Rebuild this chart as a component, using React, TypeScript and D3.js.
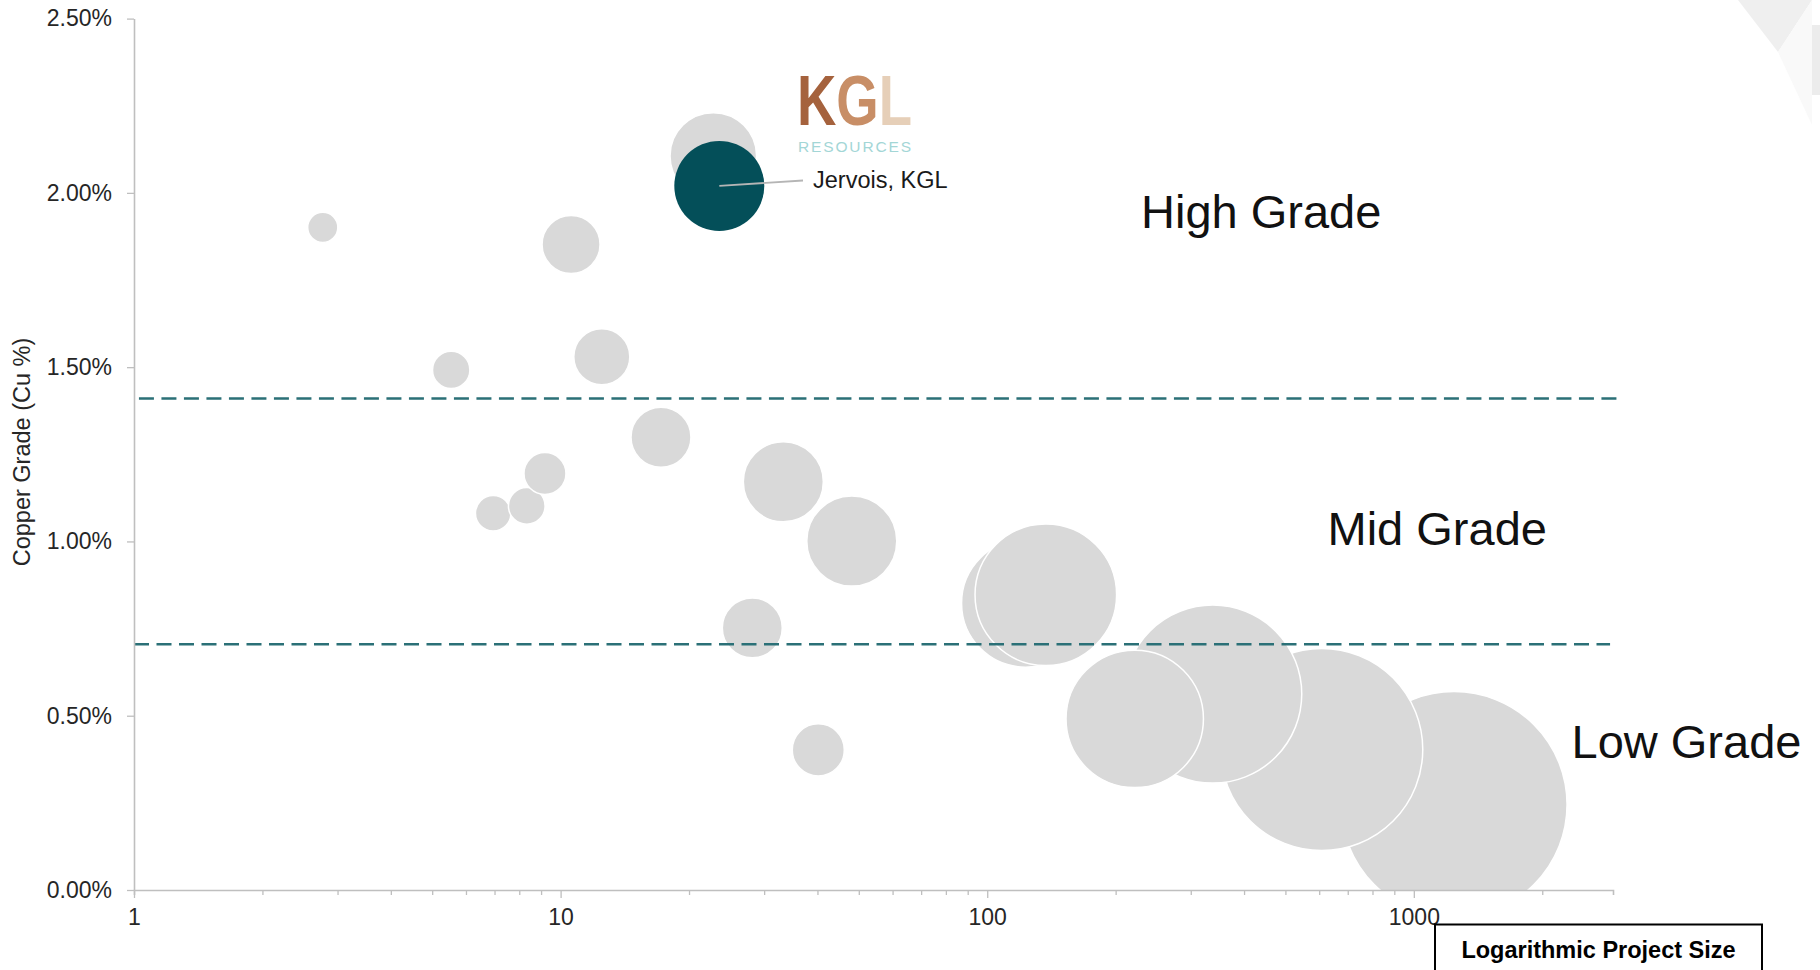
import React, { useEffect, useRef } from "react";
import * as d3 from "d3";

// Peer copper projects: ore size (log axis), copper grade (%) and contained copper (bubble size)
const peerSize = [2.77, 5.54, 6.95, 8.33, 9.19, 10.58, 12.49, 17.19, 22.8, 28.14, 33.27, 40.18, 48.14, 123, 137.2, 1242.5, 608.3, 337.8, 221.7];
const peerGrade = [1.901, 1.492, 1.081, 1.102, 1.195, 1.852, 1.53, 1.299, 2.106, 0.752, 1.171, 0.402, 1.001, 0.823, 0.847, 0.245, 0.403, 0.562, 0.491];
const peerContained = [0.054, 0.083, 0.075, 0.08, 0.105, 0.2, 0.187, 0.214, 0.446, 0.214, 0.381, 0.161, 0.482, 0.975, 1.193, 3.04, 2.43, 1.886, 1.124];

// Jervois (KGL)
const kglSize = [23.55];
const kglGrade = [2.02];
const kglContained = [0.482];
const kglLabel = "Jervois, KGL";

// grade band boundaries (dashed lines) and their extent on the size axis
const bandGrade = [1.41, 0.705];
const bandFrom = [1.027, 1];
const bandTo = [3060, 2884];
const bandLabels = ["High Grade", "Mid Grade", "Low Grade"];

const yTicks = [0, 0.5, 1, 1.5, 2, 2.5];
const xMajorTicks = [1, 10, 100, 1000];
const xMax = 2930;

const WIDTH = 1820;
const HEIGHT = 970;
const FONT = "'Liberation Sans', Arial, Helvetica, sans-serif";

export default function App() {
  const svgRef = useRef<SVGSVGElement>(null);

  useEffect(() => {
    if (!svgRef.current) return;
    const svg = d3.select(svgRef.current);
    svg.selectAll("*").remove();

    const plot = { left: 134, right: 1613, top: 18.6, bottom: 890 };
    const x = d3.scaleLog().domain([1, xMax]).range([plot.left, plot.right]);
    const y = d3.scaleLinear().domain([0, 2.5]).range([plot.bottom, plot.top]);
    const r = d3.scaleSqrt().domain([0, d3.max(peerContained)!]).range([0, 113]);

    // faint slide decoration, top right corner
    const deco = svg.append("g");
    deco.append("polygon").attr("points", "1738,0 1812,0 1778,52").attr("fill", "#efefef");
    deco.append("polygon").attr("points", "1778,52 1812,0 1812,125").attr("fill", "#f9f9f9");
    deco.append("rect").attr("x", 1812).attr("y", 25).attr("width", 8).attr("height", 70).attr("fill", "#ececec");

    svg.append("defs")
      .append("clipPath")
      .attr("id", "plot-clip")
      .append("rect")
      .attr("x", plot.left)
      .attr("y", plot.top)
      .attr("width", plot.right - plot.left)
      .attr("height", plot.bottom - plot.top);

    // Peer bubbles
    const peers = peerSize.map((s, i) => ({ s, g: peerGrade[i], c: peerContained[i] }));
    const bubbles = svg.append("g").attr("clip-path", "url(#plot-clip)");
    bubbles.selectAll("circle.peer")
      .data(peers)
      .join("circle")
      .attr("class", "peer")
      .attr("cx", (d) => x(d.s))
      .attr("cy", (d) => y(d.g))
      .attr("r", (d) => r(d.c))
      .attr("fill", "#d9d9d9")
      .attr("stroke", "#ffffff")
      .attr("stroke-width", 1.5);

    // Grade band lines
    const bands = bandGrade.map((g, i) => ({ g, from: bandFrom[i], to: bandTo[i] }));
    svg.append("g")
      .selectAll("line")
      .data(bands)
      .join("line")
      .attr("x1", (d) => x(d.from))
      .attr("x2", (d) => x(d.to))
      .attr("y1", (d) => y(d.g))
      .attr("y2", (d) => y(d.g))
      .attr("stroke", "#2b7077")
      .attr("stroke-width", 2.6)
      .attr("stroke-dasharray", "15,7.5");

    // KGL bubble
    const kgl = kglSize.map((s, i) => ({ s, g: kglGrade[i], c: kglContained[i] }));
    svg.append("g")
      .selectAll("circle")
      .data(kgl)
      .join("circle")
      .attr("cx", (d) => x(d.s))
      .attr("cy", (d) => y(d.g))
      .attr("r", (d) => r(d.c))
      .attr("fill", "#044f59");

    // Leader + label
    const kx = x(kglSize[0]);
    const ky = y(kglGrade[0]);
    svg.append("line")
      .attr("x1", kx)
      .attr("y1", ky)
      .attr("x2", 803)
      .attr("y2", 180.5)
      .attr("stroke", "#b5b5b5")
      .attr("stroke-width", 1.8);
    svg.append("text")
      .attr("x", 813)
      .attr("y", 188)
      .attr("font-family", FONT)
      .attr("font-size", 23.5)
      .attr("fill", "#1a1a1a")
      .text(kglLabel);

    // KGL Resources logo (one text, coloured letters, stretched vertically)
    const logo = svg.append("g").attr("font-family", FONT);
    const logoText = logo.append("text")
      .attr("transform", "translate(797,125) scale(1,1.28)")
      .attr("font-size", 54.5)
      .attr("font-weight", 700);
    [
      { t: "K", fill: "#a5623d" },
      { t: "G", fill: "#c88e66" },
      { t: "L", fill: "#e6cfb8" },
    ].forEach((l) => logoText.append("tspan").attr("fill", l.fill).text(l.t));
    logo.append("text")
      .attr("x", 798)
      .attr("y", 152)
      .attr("font-size", 15.5)
      .attr("textLength", 113)
      .attr("lengthAdjust", "spacing")
      .attr("fill", "#a3d6d6")
      .text("RESOURCES");

    // Axes
    const yAxis = d3.axisLeft(y)
      .tickValues(yTicks)
      .tickFormat((d) => `${(+d).toFixed(2)}%`)
      .tickSize(7)
      .tickSizeOuter(0)
      .tickPadding(15);
    const gy = svg.append("g").attr("transform", `translate(${plot.left},0)`).call(yAxis);

    const minorTicks = x.ticks().filter((v) => !xMajorTicks.includes(v));
    const gxMinor = svg.append("g")
      .attr("transform", `translate(0,${plot.bottom})`)
      .call(d3.axisBottom(x).tickValues(minorTicks).tickSize(5).tickSizeOuter(0).tickFormat(() => ""));
    gxMinor.select(".domain").remove();

    const xAxis = d3.axisBottom(x)
      .tickValues(xMajorTicks)
      .tickFormat((d) => d3.format("d")(+d))
      .tickSize(8)
      .tickSizeOuter(5)
      .tickPadding(10.5);
    const gx = svg.append("g").attr("transform", `translate(0,${plot.bottom})`).call(xAxis);

    [gy, gx, gxMinor].forEach((g) => {
      g.select(".domain").attr("stroke", "#bfbfbf").attr("stroke-width", 1.6);
      g.selectAll(".tick line").attr("stroke", "#bfbfbf").attr("stroke-width", 1.3);
      g.selectAll("text")
        .attr("font-family", FONT)
        .attr("font-size", 23)
        .attr("fill", "#262626");
    });

    svg.append("text")
      .attr("transform", "translate(30,452) rotate(-90)")
      .attr("text-anchor", "middle")
      .attr("font-family", FONT)
      .attr("font-size", 23.5)
      .attr("fill", "#262626")
      .text("Copper Grade (Cu %)");

    // Band labels
    const labelPos = [
      [1141, 228],
      [1327.5, 545],
      [1571.5, 758],
    ];
    svg.append("g")
      .selectAll("text")
      .data(bandLabels)
      .join("text")
      .attr("x", (_, i) => labelPos[i][0])
      .attr("y", (_, i) => labelPos[i][1])
      .attr("font-family", FONT)
      .attr("font-size", 47)
      .attr("fill", "#111111")
      .text((d) => d);

    // X axis caption box
    svg.append("rect")
      .attr("x", 1435)
      .attr("y", 924.5)
      .attr("width", 327)
      .attr("height", 60)
      .attr("fill", "#ffffff")
      .attr("stroke", "#000000")
      .attr("stroke-width", 2);
    svg.append("text")
      .attr("x", 1598.5)
      .attr("y", 958)
      .attr("text-anchor", "middle")
      .attr("font-family", FONT)
      .attr("font-size", 23.5)
      .attr("font-weight", 700)
      .attr("fill", "#000000")
      .text("Logarithmic Project Size");
  }, []);

  return (
    <div style={{ position: "absolute", left: 0, top: 0, width: WIDTH, height: HEIGHT, background: "#ffffff" }}>
      <svg ref={svgRef} width={WIDTH} height={HEIGHT} style={{ display: "block" }} />
    </div>
  );
}
